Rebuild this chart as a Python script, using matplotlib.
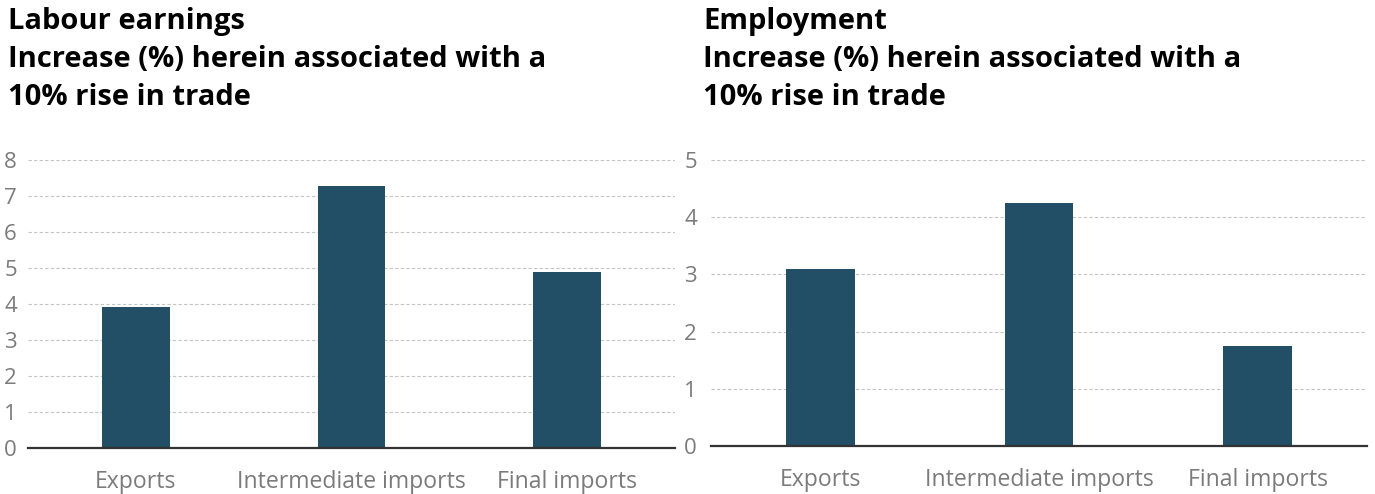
import numpy as np
import matplotlib.pyplot as plt

categories = ['Exports', 'Intermediate imports', 'Final imports']
earnings = [3.92, 7.28, 4.89]
employment = [3.09, 4.25, 1.75]

plt.rcParams['font.family'] = ['Open Sans', 'DejaVu Sans']

W, H = 1375, 494
fig = plt.figure(figsize=(W / 100, H / 100), dpi=100)

bar_color = '#224e66'
tick_color = '#7b7b7b'


def px_axes(x0, x1, y_top, y_bottom):
    return fig.add_axes([x0 / W, 1 - y_bottom / H, (x1 - x0) / W, (y_bottom - y_top) / H])


def draw_panel(ax, values, ymax, title, title_x, ypad):
    x = np.arange(len(categories))
    ax.bar(x, values, width=0.315, color=bar_color, zorder=3)
    ax.set_xlim(-0.5, 2.5)
    ax.set_ylim(0, ymax)
    ax.set_yticks(range(ymax + 1))
    ax.set_xticks(x)
    ax.set_xticklabels(categories)
    ax.grid(axis='y', linestyle=(0, (3, 2)), color='#c4c4c4', linewidth=0.8, zorder=0)
    for s in ['left', 'right', 'top']:
        ax.spines[s].set_visible(False)
    ax.spines['bottom'].set_color('#333333')
    ax.spines['bottom'].set_linewidth(1.6)
    ax.spines['bottom'].set_zorder(4)
    ax.tick_params(axis='y', length=0, pad=ypad, labelsize=16, labelcolor=tick_color)
    ax.tick_params(axis='x', length=0, pad=16, labelsize=16.6, labelcolor=tick_color)
    fig.text(title_x / W, 1 - 7 / H, title, ha='left', va='top', fontsize=21,
             fontweight='bold', linespacing=1.41)


ax1 = px_axes(28, 675, 160, 448)
draw_panel(ax1, earnings, 8,
           'Labour earnings\nIncrease (%) herein associated with a\n10% rise in trade', 8, 8)

ax2 = px_axes(711, 1367, 160, 446)
draw_panel(ax2, employment, 5,
           'Employment\nIncrease (%) herein associated with a\n10% rise in trade', 703, 10)

fig.savefig('out.png', dpi=100)
